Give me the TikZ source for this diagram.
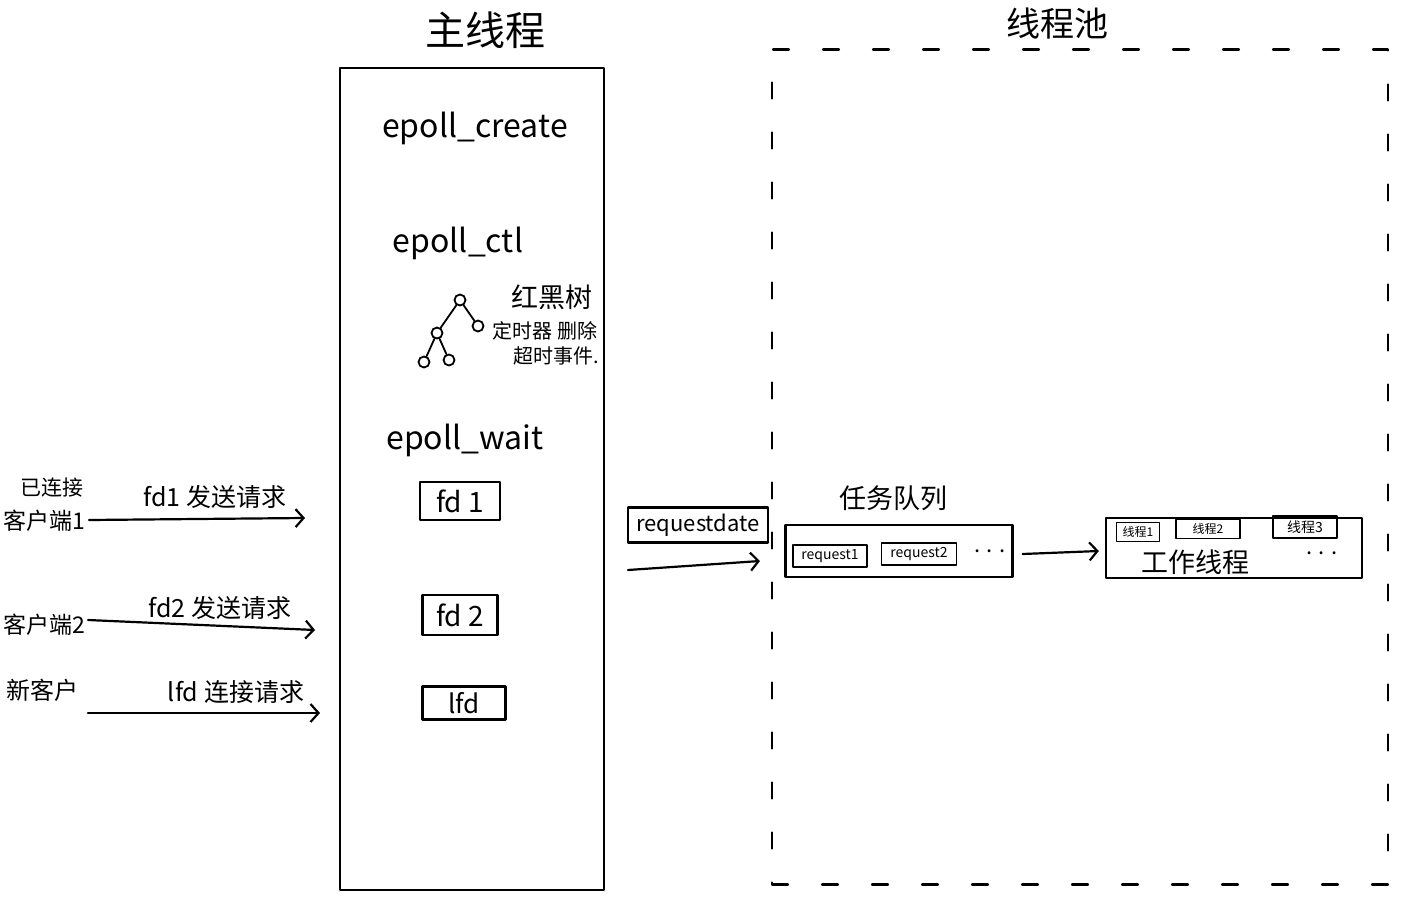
\documentclass[tikz,border=0pt]{standalone}
\usepackage{fontspec}
\setmainfont{Noto Sans CJK SC}
\usetikzlibrary{arrows.meta}
\newcommand\myfs[1]{\fontsize{#1}{#1}\selectfont}
\tikzset{
  ln/.style={line width=2.2pt, line cap=round, line join=round},
  arr/.style={ln, -{Straight Barb[length=8pt,width=18pt,line width=2.2pt]}},
  txt/.style={inner sep=0pt},
  box/.style={draw, ln, inner sep=0pt},
  leaf/.style={draw, circle, line width=1.8pt, minimum size=11pt, inner sep=0pt},
}
\begin{document}
\begin{tikzpicture}[x=1pt,y=-1pt]
\useasboundingbox (0,0) rectangle (1428,905);
\fill[white] (0,0) rectangle (1428,905);

% ---------- main thread ----------
\node[txt, font=\myfs{40}] (tmain) at (485,30) {主线程};
\node[box, minimum width=264pt, minimum height=822pt] (main) at (472,479) {};
\node[txt, font=\myfs{32}] (ecreate) at (475,128) {epoll\_create};
\node[txt, font=\myfs{32}] (ectl) at (458,243) {epoll\_ctl};
\node[txt, font=\myfs{32}] (ewait) at (465,440) {epoll\_wait};

% tree
\node[leaf] (t0) at (460,300) {};
\node[leaf] (t1) at (437,333) {};
\node[leaf] (t2) at (478,326) {};
\node[leaf] (t3) at (424,362) {};
\node[leaf] (t4) at (449,360) {};
\draw[ln, line width=1.8pt] (t0) -- (t1) (t0) -- (t2) (t1) -- (t3) (t1) -- (t4);
\node[txt, font=\myfs{27}] (rb) at (552,297) {红黑树};
\node[txt, font=\myfs{20}] (timer) at (545,331) {定时器 删除};
\node[txt, font=\myfs{20}] (tmo) at (556,356) {超时事件.};

% fd boxes
\node[box, font=\myfs{28}, minimum width=80pt, minimum height=38pt] (fd1) at (460,501) {fd 1};
\node[box, font=\myfs{28}, minimum width=75pt, minimum height=40pt] (fd2) at (460,615) {fd 2};
\node[box, font=\myfs{26}, minimum width=83pt, minimum height=33pt] (lfd) at (464,703) {lfd};

% ---------- clients ----------
\node[txt, font=\myfs{21}] (conn) at (52,488) {已连接};
\node[txt, font=\myfs{23}] (c1) at (44,521) {客户端1};
\node[txt, font=\myfs{23}] (c2) at (44,625) {客户端2};
\node[txt, font=\myfs{24}] (c3) at (42,690) {新客户};

\coordinate (e1) at (305,518);
\coordinate (e2) at (315,630);
\coordinate (e3) at (320,713);
\coordinate (s3) at (88,713);
\draw[arr] ([xshift=4pt,yshift=1pt]c1.east) -- (e1);
\draw[arr] ([xshift=3pt,yshift=5pt]c2.east) -- (e2);
\draw[arr] (s3) -- (e3);
\node[txt, font=\myfs{25}] (l1) at (215,497) {fd1 发送请求};
\node[txt, font=\myfs{25}] (l2) at (220,608) {fd2 发送请求};
\node[txt, font=\myfs{25}] (l3) at (236,692) {lfd 连接请求};

% ---------- request data ----------
\node[box, font=\myfs{22}, minimum width=140pt, minimum height=35pt] (rd) at (698,525) {requestdate};
\coordinate (rs) at (628,570);
\coordinate (re) at (760,561);
\draw[arr] (rs) -- (re);

% ---------- thread pool ----------
\node[txt, font=\myfs{34}] (tpool) at (1057,24) {线程池};
\node[draw, ln, dash pattern=on 16pt off 34pt, minimum width=616pt, minimum height=835pt] (pool) at (1080,467) {};

\node[txt, font=\myfs{27}] (tq) at (893,498) {任务队列};
\node[box, minimum width=227pt, minimum height=52pt] (queue) at (899,551) {};
\node[box, line width=1.8pt, font=\myfs{14}, minimum width=74pt, minimum height=22pt] (r1) at (830,556) {request1};
\node[box, line width=1.8pt, font=\myfs{14}, minimum width=75pt, minimum height=22pt] (r2) at (919,554) {request2};
\node[txt, font=\myfs{22}] (qd) at (990,551) {. . .};

\node[box, minimum width=256pt, minimum height=60pt] (worker) at (1234,548) {};
\draw[arr] ([xshift=9pt,yshift=-3pt]queue.east) -- ([xshift=-6pt,yshift=-3pt]worker.west);
\node[txt, font=\myfs{27}] (wt) at (1195,562) {工作线程};
\node[box, line width=1.8pt, font=\myfs{12}, minimum width=43pt, minimum height=19pt] (w1) at (1138,532) {线程1};
\node[box, line width=1.8pt, font=\myfs{12}, minimum width=64pt, minimum height=19pt] (w2) at (1208,529) {线程2};
\node[box, line width=1.8pt, font=\myfs{14}, minimum width=64pt, minimum height=22pt] (w3) at (1305,527) {线程3};
\node[txt, font=\myfs{22}] (wd) at (1322,553) {. . .};
\end{tikzpicture}
\end{document}
